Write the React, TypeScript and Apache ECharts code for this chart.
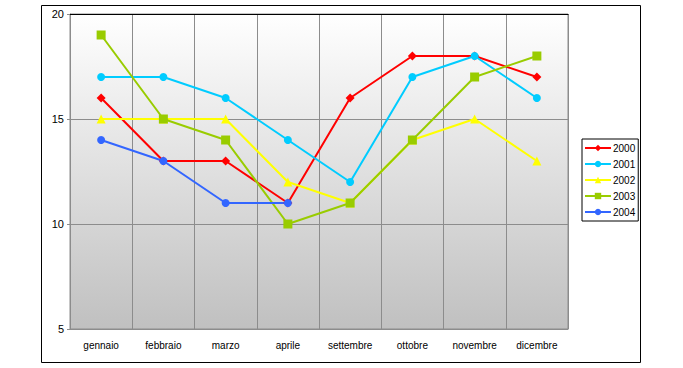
import React, { useEffect, useRef } from "react";
import * as echarts from "echarts";

const months = ["gennaio", "febbraio", "marzo", "aprile", "settembre", "ottobre", "novembre", "dicembre"];
const s2000 = [16, 13, 13, 11, 16, 18, 18, 17];
const s2001 = [17, 17, 16, 14, 12, 17, 18, 16];
const s2002 = [15, 15, 15, 12, 11, 14, 15, 13];
const s2003 = [19, 15, 14, 10, 11, 14, 17, 18];
const s2004 = [14, 13, 11, 11, null, null, null, null];
const seriesNames = ["2000", "2001", "2002", "2003", "2004"];
const yTicks = { min: 5, max: 20, interval: 5 };

export default function App() {
  const ref = useRef<HTMLDivElement>(null);
  useEffect(() => {
    const chart = echarts.init(ref.current!, null, { renderer: "svg" });
    const font = "Liberation Sans";
    const mk = (name: string, data: any[], color: string, symbol: string, size: number) => ({
      name,
      type: "line",
      data,
      symbol,
      symbolSize: size,
      showAllSymbol: true,
      connectNulls: false,
      lineStyle: { color, width: 2 },
      itemStyle: { color },
      emphasis: { disabled: true },
    });
    chart.setOption({
      animation: false,
      backgroundColor: "#ffffff",
      textStyle: { fontFamily: font },
      graphic: [
        {
          type: "rect",
          shape: { x: 41.5, y: 5.5, width: 599, height: 357 },
          style: { fill: "none", stroke: "#000", lineWidth: 1 },
          z: 0,
        },
      ],
      grid: {
        left: 70,
        top: 14,
        width: 498,
        height: 315,
        show: true,
        borderColor: "#8c8c8c",
        borderWidth: 1,
        backgroundColor: new echarts.graphic.LinearGradient(0, 0, 0, 1, [
          { offset: 0, color: "#ffffff" },
          { offset: 1, color: "#c0c0c0" },
        ]),
      },
      legend: {
        orient: "vertical",
        left: 582,
        top: 139,
        width: 55,
        padding: [4, 3, 4, 2],
        itemWidth: 26,
        itemHeight: 8,
        itemGap: 6,
        borderColor: "#000",
        borderWidth: 1,
        data: seriesNames,
        textStyle: { fontFamily: font, fontSize: 10, color: "#000", padding: [0, 0, 0, -3] },
      },
      xAxis: [
        {
          type: "category",
          data: months,
          boundaryGap: true,
          axisLine: { lineStyle: { color: "#8c8c8c" } },
          axisTick: { show: false },
          splitLine: { show: true, lineStyle: { color: "#8c8c8c", width: 1 } },
          axisLabel: { color: "#000", fontSize: 10, margin: 11, fontFamily: font },
        },
        {
          type: "category",
          data: months,
          position: "top",
          axisLine: { show: true, lineStyle: { color: "#000", width: 1 } },
          axisTick: { show: false },
          axisLabel: { show: false },
          splitLine: { show: false },
        },
      ],
      yAxis: {
        type: "value",
        min: yTicks.min,
        max: yTicks.max,
        interval: yTicks.interval,
        axisLine: { show: true, lineStyle: { color: "#8c8c8c" } },
        axisTick: { show: true, length: 3, lineStyle: { color: "#8c8c8c" } },
        splitLine: { show: true, lineStyle: { color: "#8c8c8c", width: 1 } },
        axisLabel: { color: "#000", fontSize: 11, margin: 6, fontFamily: font },
      },
      series: [
        mk("2000", s2000, "#ff0000", "diamond", 9),
        mk("2001", s2001, "#00ccff", "circle", 8),
        mk("2002", s2002, "#ffff00", "triangle", 9),
        mk("2003", s2003, "#99cc00", "rect", 9),
        mk("2004", s2004, "#3366ff", "circle", 8),
      ],
    });
    return () => chart.dispose();
  }, []);
  return (
    <div
      ref={ref}
      style={{ position: "fixed", left: 0, top: 0, width: 683, height: 368 }}
    />
  );
}
